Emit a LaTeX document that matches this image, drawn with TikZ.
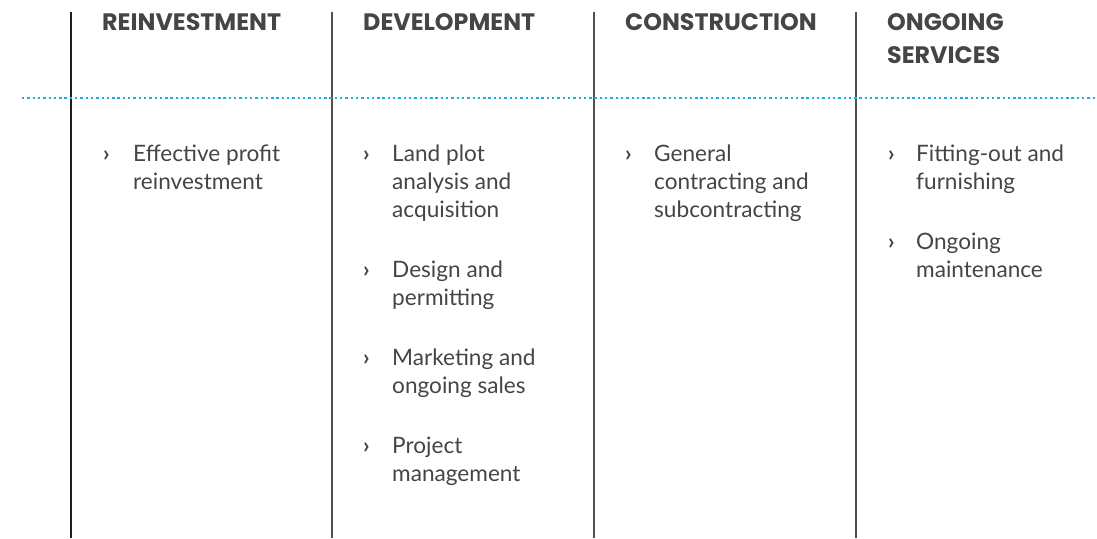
\documentclass[tikz,border=0pt]{standalone}
\usepackage{fontspec}
\setmainfont{Lato}
\newfontfamily\headfont{Poppins}
\definecolor{ink}{HTML}{454545}
\definecolor{rulec}{HTML}{505050}
\definecolor{rulek}{HTML}{1E1E1E}
\definecolor{dotc}{HTML}{1AAFD8}
\begin{document}
\begin{tikzpicture}[x=1pt,y=-1pt,
  vline/.style={draw=rulec,line width=1.4pt},
  dotline/.style={draw=dotc,line width=2.4pt,dash pattern=on 2.4pt off 2.9pt},
  head/.style={font=\headfont\bfseries\fontsize{23.8}{32}\selectfont,text=ink,anchor=base west,inner sep=0pt},
  body/.style={font=\fontsize{22.6}{28}\selectfont,text=ink,anchor=base west,inner sep=0pt},
  bul/.style={font=\bfseries\fontsize{22.6}{28}\selectfont,text=ink,anchor=base west,inner sep=0pt}]
\useasboundingbox (0,0) rectangle (1097,538);
% column rules
\foreach \i/\x in {1/71,2/332,3/594,4/856}{
  \coordinate (t\i) at (\x,12);
  \coordinate (b\i) at (\x,538);
}
\draw[vline,draw=rulek] (t1) -- (b1);
\draw[vline] (t2) -- (b2);
\draw[vline] (t3) -- (b3);
\draw[vline] (t4) -- (b4);
% dotted separator
\coordinate (dl) at (22,98);
\coordinate (dr) at (1097,98);
\draw[dotline] (dl) -- (dr);
% headings
\node[head] (h1) at (102,30) {REINVESTMENT};
\node[head] (h2) at (363,30) {DEVELOPMENT};
\node[head] (h3) at (625,30) {CONSTRUCTION};
\node[head] (h4a) at (887,30) {ONGOING};
\node[head] (h4b) at (887,63) {SERVICES};
% column 1
\node[bul] (m11) at (103,161) {›};
\node[body] (a11) at (133,161) {Effective profit};
\node[body] (a12) at (133,189) {reinvestment};
% column 2
\node[bul] (m21) at (363,161) {›};
\node[body] (c21) at (392,161) {Land plot};
\node[body] (c22) at (392,189) {analysis and};
\node[body] (c23) at (392,217) {acquisition};
\node[bul] (m22) at (363,277) {›};
\node[body] (c24) at (392,277) {Design and};
\node[body] (c25) at (392,305) {permitting};
\node[bul] (m23) at (363,365) {›};
\node[body] (c26) at (392,365) {Marketing and};
\node[body] (c27) at (392,393) {ongoing sales};
\node[bul] (m24) at (363,453) {›};
\node[body] (c28) at (392,453) {Project};
\node[body] (c29) at (392,481) {management};
% column 3
\node[bul] (m31) at (625,161) {›};
\node[body] (d31) at (654,161) {General};
\node[body] (d32) at (654,189) {contracting and};
\node[body] (d33) at (654,217) {subcontracting};
% column 4
\node[bul] (m41) at (888,161) {›};
\node[body] (e41) at (916,161) {Fitting-out and};
\node[body] (e42) at (916,189) {furnishing};
\node[bul] (m42) at (888,249) {›};
\node[body] (e43) at (916,249) {Ongoing};
\node[body] (e44) at (916,277) {maintenance};
\end{tikzpicture}
\end{document}
